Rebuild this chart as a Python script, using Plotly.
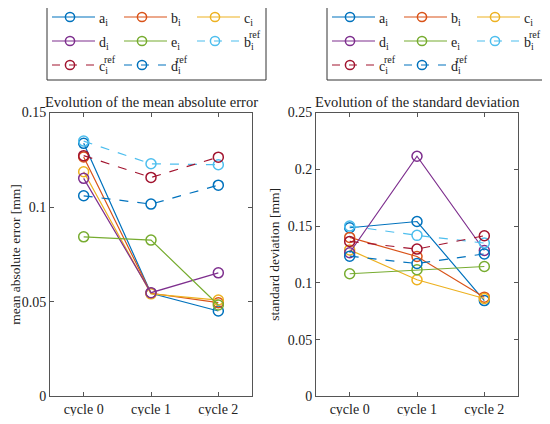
import plotly.graph_objects as go

cycles = ['cycle 0', 'cycle 1', 'cycle 2']
letters = ['a', 'b', 'c', 'd', 'e', 'b', 'c', 'd']
is_ref = [False] * 5 + [True] * 3

# mean absolute error [mm]
mae_a = [0.1337, 0.0545, 0.0451]
mae_b = [0.1265, 0.0545, 0.0495]
mae_c = [0.1187, 0.0542, 0.0509]
mae_d = [0.1152, 0.0548, 0.0653]
mae_e = [0.0843, 0.0826, 0.0483]
mae_bref = [0.1349, 0.1229, 0.1224]
mae_cref = [0.1272, 0.1157, 0.1264]
mae_dref = [0.1060, 0.1016, 0.1116]

# standard deviation [mm]
std_a = [0.1485, 0.1540, 0.0844]
std_b = [0.1400, 0.1232, 0.0874]
std_c = [0.1290, 0.1027, 0.0862]
std_d = [0.1265, 0.2115, 0.1285]
std_e = [0.1080, 0.1115, 0.1144]
std_bref = [0.1500, 0.1418, 0.1350]
std_cref = [0.1365, 0.1297, 0.1415]
std_dref = [0.1235, 0.1170, 0.1255]

colors = ['#0072BD', '#D95319', '#EDB120', '#7E2F8E', '#77AC30', '#4DBEEE', '#A2142F', '#0072BD']

mae = [mae_a, mae_b, mae_c, mae_d, mae_e, mae_bref, mae_cref, mae_dref]
std = [std_a, std_b, std_c, std_d, std_e, std_bref, std_cref, std_dref]

FONT = 'Liberation Serif, Times New Roman, serif'
TXT = '#222222'
W, H = 534, 408   # the page body keeps an 8px margin


def px(x):
    return (x - 8) / W


def py(y):
    return 1 - (y - 8) / H


fig = go.Figure()

for vals, xa, ya in [(mae, 'x', 'y'), (std, 'x2', 'y2')]:
    for i in range(8):
        fig.add_trace(go.Scatter(
            x=cycles, y=vals[i], mode='lines+markers', showlegend=False,
            line=dict(color=colors[i], width=1.2, dash='dash' if is_ref[i] else 'solid'),
            marker=dict(symbol='circle-open', size=10, color=colors[i], line=dict(width=1.5)),
            xaxis=xa, yaxis=ya))

# legend boxes drawn by hand (3 columns, MATLAB style)
shapes = []
annotations = []
col_off = [0, 72, 145]
row_y = [17, 41, 65]
for bx in [47, 327]:
    shapes.append(dict(type='rect', xref='paper', yref='paper', x0=px(bx), x1=px(bx + 219),
                       y0=py(80), y1=py(5), line=dict(color='#333333', width=1)))
    for i in range(8):
        cx = bx + 5 + col_off[i % 3]
        cy = row_y[i // 3]
        shapes.append(dict(type='line', xref='paper', yref='paper', x0=px(cx), x1=px(cx + 43),
                           y0=py(cy), y1=py(cy),
                           line=dict(color=colors[i], width=1.2, dash='8px,9px' if is_ref[i] else 'solid')))
        shapes.append(dict(type='circle', xref='paper', yref='paper',
                           x0=px(cx + 18 - 4.6), x1=px(cx + 18 + 4.6),
                           y0=py(cy + 4.6), y1=py(cy - 4.6),
                           line=dict(color=colors[i], width=1.5)))
        tx = cx + 45
        annotations.append(dict(text=letters[i] + '<sub>i</sub>', x=px(tx), y=py(cy + 2),
                                xref='paper', yref='paper', xanchor='left', yanchor='middle',
                                showarrow=False, font=dict(family=FONT, size=14, color=TXT)))
        if is_ref[i]:
            annotations.append(dict(text='ref', x=px(tx + 5.5), y=py(cy - 6),
                                    xref='paper', yref='paper', xanchor='left', yanchor='middle',
                                    showarrow=False, borderpad=0,
                                    font=dict(family=FONT, size=10, color=TXT)))

axis_style = dict(showline=True, linecolor='#555555', linewidth=1, mirror='ticks',
                  ticks='inside', ticklen=4, tickcolor='#555555', showgrid=False,
                  zeroline=False, tickfont=dict(family=FONT, size=14, color=TXT),
                  automargin=False)

ydom = [py(396.4), py(112.5)]

annotations += [
    dict(text='Evolution of the mean absolute error', x=px(151), y=ydom[1], xref='paper', yref='paper',
         xanchor='center', yanchor='bottom', showarrow=False, font=dict(family=FONT, size=14.5, color=TXT)),
    dict(text='Evolution of the standard deviation', x=px(417), y=ydom[1], xref='paper', yref='paper',
         xanchor='center', yanchor='bottom', showarrow=False, font=dict(family=FONT, size=14.5, color=TXT)),
]

fig.update_layout(
    width=W, height=H,
    margin=dict(l=0, r=0, t=0, b=0),
    paper_bgcolor='white', plot_bgcolor='white',
    font=dict(family=FONT, size=14, color=TXT),
    showlegend=False,
    xaxis=dict(domain=[px(50), px(252)], range=[-0.5, 2.5], anchor='y', **axis_style),
    yaxis=dict(domain=ydom, range=[0, 0.15], dtick=0.05, anchor='x',
               title=dict(text='mean absolute error [mm]', font=dict(family=FONT, size=13.5, color=TXT),
                          standoff=4),
               **axis_style),
    xaxis2=dict(domain=[px(316), px(518)], range=[-0.5, 2.5], anchor='y2', **axis_style),
    yaxis2=dict(domain=ydom, range=[0, 0.25], dtick=0.05, anchor='x2',
                title=dict(text='standard deviation [mm]', font=dict(family=FONT, size=13.5, color=TXT),
                           standoff=4),
                **axis_style),
    shapes=shapes,
    annotations=annotations,
)

fig.write_html('out.html')
